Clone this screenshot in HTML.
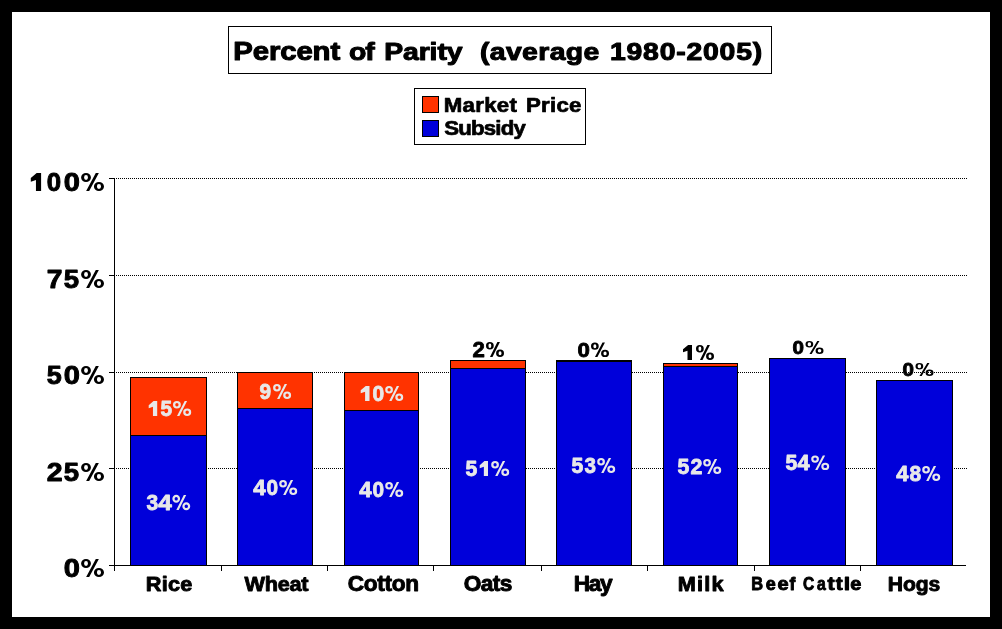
<!DOCTYPE html><html><head><meta charset="utf-8"><style>html,body{margin:0;padding:0;background:#000;}svg{display:block} text{will-change:transform}</style></head><body>
<svg width="1002" height="629" viewBox="0 0 1002 629">
<rect x="0" y="0" width="1002" height="629" fill="#000"/>
<rect x="12" y="12" width="978" height="605" fill="#fff"/>
<g shape-rendering="crispEdges">
<rect x="228.5" y="26.5" width="543" height="47" fill="#fff" stroke="#000" stroke-width="1"/>
<rect x="414.5" y="88.5" width="171" height="56" fill="#fff" stroke="#000" stroke-width="1"/>
<rect x="422.5" y="96.5" width="16" height="16" fill="#FF3300" stroke="#000" stroke-width="1"/>
<rect x="422.5" y="120.5" width="16" height="16" fill="#0000DA" stroke="#000" stroke-width="1"/>
<line x1="116" y1="178.5" x2="967" y2="178.5" stroke="#000" stroke-width="1" stroke-dasharray="1 1"/>
<line x1="116" y1="275.5" x2="967" y2="275.5" stroke="#000" stroke-width="1" stroke-dasharray="1 1"/>
<line x1="116" y1="372.5" x2="967" y2="372.5" stroke="#000" stroke-width="1" stroke-dasharray="1 1"/>
<line x1="116" y1="468.5" x2="967" y2="468.5" stroke="#000" stroke-width="1" stroke-dasharray="1 1"/>
<rect x="130.5" y="377.5" width="76" height="58" fill="#FF3300" stroke="#000" stroke-width="1"/>
<rect x="130.5" y="435.5" width="76" height="130" fill="#0000DA" stroke="#000" stroke-width="1"/>
<rect x="237.5" y="372.5" width="75" height="36" fill="#FF3300" stroke="#000" stroke-width="1"/>
<rect x="237.5" y="408.5" width="75" height="157" fill="#0000DA" stroke="#000" stroke-width="1"/>
<rect x="344.5" y="372.5" width="74" height="38" fill="#FF3300" stroke="#000" stroke-width="1"/>
<rect x="344.5" y="410.5" width="74" height="155" fill="#0000DA" stroke="#000" stroke-width="1"/>
<rect x="450.5" y="360.5" width="75" height="8" fill="#FF3300" stroke="#000" stroke-width="1"/>
<rect x="450.5" y="368.5" width="75" height="197" fill="#0000DA" stroke="#000" stroke-width="1"/>
<rect x="556.5" y="360.5" width="75" height="1" fill="#FF3300" stroke="#000" stroke-width="1"/>
<rect x="556.5" y="361.5" width="75" height="204" fill="#0000DA" stroke="#000" stroke-width="1"/>
<rect x="663.5" y="363.5" width="74" height="3" fill="#FF3300" stroke="#000" stroke-width="1"/>
<rect x="663.5" y="366.5" width="74" height="199" fill="#0000DA" stroke="#000" stroke-width="1"/>
<rect x="769.5" y="358.5" width="76" height="207" fill="#0000DA" stroke="#000" stroke-width="1"/>
<rect x="876.5" y="380.5" width="76" height="185" fill="#0000DA" stroke="#000" stroke-width="1"/>
<line x1="114.5" y1="178" x2="114.5" y2="571" stroke="#000" stroke-width="1"/>
<line x1="109" y1="565.5" x2="966" y2="565.5" stroke="#000" stroke-width="1"/>
<line x1="109" y1="178.5" x2="115" y2="178.5" stroke="#000" stroke-width="1"/>
<line x1="109" y1="275.5" x2="115" y2="275.5" stroke="#000" stroke-width="1"/>
<line x1="109" y1="372.5" x2="115" y2="372.5" stroke="#000" stroke-width="1"/>
<line x1="109" y1="468.5" x2="115" y2="468.5" stroke="#000" stroke-width="1"/>
<line x1="221.5" y1="565" x2="221.5" y2="571" stroke="#000" stroke-width="1"/>
<line x1="327.5" y1="565" x2="327.5" y2="571" stroke="#000" stroke-width="1"/>
<line x1="433.5" y1="565" x2="433.5" y2="571" stroke="#000" stroke-width="1"/>
<line x1="541.5" y1="565" x2="541.5" y2="571" stroke="#000" stroke-width="1"/>
<line x1="647.5" y1="565" x2="647.5" y2="571" stroke="#000" stroke-width="1"/>
<line x1="754.5" y1="565" x2="754.5" y2="571" stroke="#000" stroke-width="1"/>
<line x1="860.5" y1="565" x2="860.5" y2="571" stroke="#000" stroke-width="1"/>
</g>
<path d="M36.67,173.00L41.10,173.00L41.10,191.00L35.95,191.00L35.95,180.02L30.80,181.64L30.80,178.04z" fill="#000"/>
<path d="M153.54,401.00L157.20,401.00L157.20,416.00L152.95,416.00L152.95,406.85L148.70,408.20L148.70,405.20z" fill="#E8E8E8"/>
<path d="M365.72,386.00L369.50,386.00L369.50,401.00L365.10,401.00L365.10,391.85L360.70,393.20L360.70,390.20z" fill="#E8E8E8"/>
<path d="M484.43,461.00L488.00,461.00L488.00,476.00L483.85,476.00L483.85,466.85L479.70,468.20L479.70,465.20z" fill="#E8E8E8"/>
<path d="M688.13,345.00L692.00,345.00L692.00,360.00L687.50,360.00L687.50,350.85L683.00,352.20L683.00,349.20z" fill="#000"/>
<path d="M486.00,345.75a3.87,3.75 0 1,0 7.74,0a3.87,3.75 0 1,0 -7.74,0zM488.48,345.75a1.40,2.02 0 1,1 2.79,0a1.40,2.02 0 1,1 -2.79,0zM496.08,353.25a3.96,3.75 0 1,0 7.92,0a3.96,3.75 0 1,0 -7.92,0zM498.56,353.25a1.48,2.02 0 1,1 2.97,0a1.48,2.02 0 1,1 -2.97,0zM489.96,357.00L492.51,357.00L499.95,342.00L497.40,342.00z" fill="#000" fill-rule="nonzero"/>
<path d="M591.00,346.20a3.87,3.60 0 1,0 7.74,0a3.87,3.60 0 1,0 -7.74,0zM593.38,346.20a1.49,1.94 0 1,1 2.99,0a1.49,1.94 0 1,1 -2.99,0zM601.08,353.40a3.96,3.60 0 1,0 7.92,0a3.96,3.60 0 1,0 -7.92,0zM603.46,353.40a1.58,1.94 0 1,1 3.17,0a1.58,1.94 0 1,1 -3.17,0zM594.96,357.00L597.41,357.00L604.95,342.60L602.50,342.60z" fill="#000" fill-rule="nonzero"/>
<path d="M696.00,348.75a3.87,3.75 0 1,0 7.74,0a3.87,3.75 0 1,0 -7.74,0zM698.48,348.75a1.40,2.02 0 1,1 2.79,0a1.40,2.02 0 1,1 -2.79,0zM706.08,356.25a3.96,3.75 0 1,0 7.92,0a3.96,3.75 0 1,0 -7.92,0zM708.55,356.25a1.48,2.02 0 1,1 2.97,0a1.48,2.02 0 1,1 -2.97,0zM699.96,360.00L702.51,360.00L709.95,345.00L707.40,345.00z" fill="#000" fill-rule="nonzero"/>
<path d="M805.50,344.25a3.87,3.25 0 1,0 7.74,0a3.87,3.25 0 1,0 -7.74,0zM807.64,344.25a1.73,1.75 0 1,1 3.45,0a1.73,1.75 0 1,1 -3.45,0zM815.58,350.75a3.96,3.25 0 1,0 7.92,0a3.96,3.25 0 1,0 -7.92,0zM817.72,350.75a1.81,1.75 0 1,1 3.63,0a1.81,1.75 0 1,1 -3.63,0zM809.46,354.00L811.67,354.00L819.45,341.00L817.24,341.00z" fill="#000" fill-rule="nonzero"/>
<path d="M915.50,366.25a3.87,3.25 0 1,0 7.74,0a3.87,3.25 0 1,0 -7.74,0zM917.64,366.25a1.73,1.75 0 1,1 3.45,0a1.73,1.75 0 1,1 -3.45,0zM925.58,372.75a3.96,3.25 0 1,0 7.92,0a3.96,3.25 0 1,0 -7.92,0zM927.72,372.75a1.81,1.75 0 1,1 3.63,0a1.81,1.75 0 1,1 -3.63,0zM919.46,376.00L921.67,376.00L929.45,363.00L927.24,363.00z" fill="#000" fill-rule="nonzero"/>
<path d="M81.10,177.50a4.92,4.50 0 1,0 9.85,0a4.92,4.50 0 1,0 -9.85,0zM84.07,177.50a1.95,2.43 0 1,1 3.91,0a1.95,2.43 0 1,1 -3.91,0zM93.92,186.50a5.04,4.50 0 1,0 10.08,0a5.04,4.50 0 1,0 -10.08,0zM96.89,186.50a2.07,2.43 0 1,1 4.14,0a2.07,2.43 0 1,1 -4.14,0zM86.14,191.00L89.20,191.00L98.85,173.00L95.79,173.00z" fill="#000" fill-rule="nonzero"/>
<path d="M81.10,274.50a4.92,4.50 0 1,0 9.85,0a4.92,4.50 0 1,0 -9.85,0zM84.07,274.50a1.95,2.43 0 1,1 3.91,0a1.95,2.43 0 1,1 -3.91,0zM93.92,283.50a5.04,4.50 0 1,0 10.08,0a5.04,4.50 0 1,0 -10.08,0zM96.89,283.50a2.07,2.43 0 1,1 4.14,0a2.07,2.43 0 1,1 -4.14,0zM86.14,288.00L89.20,288.00L98.85,270.00L95.79,270.00z" fill="#000" fill-rule="nonzero"/>
<path d="M81.10,370.50a4.92,4.50 0 1,0 9.85,0a4.92,4.50 0 1,0 -9.85,0zM84.07,370.50a1.95,2.43 0 1,1 3.91,0a1.95,2.43 0 1,1 -3.91,0zM93.92,379.50a5.04,4.50 0 1,0 10.08,0a5.04,4.50 0 1,0 -10.08,0zM96.89,379.50a2.07,2.43 0 1,1 4.14,0a2.07,2.43 0 1,1 -4.14,0zM86.14,384.00L89.20,384.00L98.85,366.00L95.79,366.00z" fill="#000" fill-rule="nonzero"/>
<path d="M81.10,467.50a4.92,4.50 0 1,0 9.85,0a4.92,4.50 0 1,0 -9.85,0zM84.07,467.50a1.95,2.43 0 1,1 3.91,0a1.95,2.43 0 1,1 -3.91,0zM93.92,476.50a5.04,4.50 0 1,0 10.08,0a5.04,4.50 0 1,0 -10.08,0zM96.89,476.50a2.07,2.43 0 1,1 4.14,0a2.07,2.43 0 1,1 -4.14,0zM86.14,481.00L89.20,481.00L98.85,463.00L95.79,463.00z" fill="#000" fill-rule="nonzero"/>
<path d="M81.10,563.50a4.92,4.50 0 1,0 9.85,0a4.92,4.50 0 1,0 -9.85,0zM84.07,563.50a1.95,2.43 0 1,1 3.91,0a1.95,2.43 0 1,1 -3.91,0zM93.92,572.50a5.04,4.50 0 1,0 10.08,0a5.04,4.50 0 1,0 -10.08,0zM96.89,572.50a2.07,2.43 0 1,1 4.14,0a2.07,2.43 0 1,1 -4.14,0zM86.14,577.00L89.20,577.00L98.85,559.00L95.79,559.00z" fill="#000" fill-rule="nonzero"/>
<path d="M173.00,404.75a3.91,3.75 0 1,0 7.83,0a3.91,3.75 0 1,0 -7.83,0zM175.25,404.75a1.66,1.65 0 1,1 3.33,0a1.66,1.65 0 1,1 -3.33,0zM183.19,412.25a4.00,3.75 0 1,0 8.01,0a4.00,3.75 0 1,0 -8.01,0zM185.44,412.25a1.75,1.65 0 1,1 3.51,0a1.75,1.65 0 1,1 -3.51,0zM177.00,416.00L179.40,416.00L187.10,401.00L184.70,401.00z" fill="#E8E8E8" fill-rule="nonzero"/>
<path d="M172.40,498.75a3.83,3.75 0 1,0 7.65,0a3.83,3.75 0 1,0 -7.65,0zM174.65,498.75a1.58,1.65 0 1,1 3.15,0a1.58,1.65 0 1,1 -3.15,0zM182.37,506.25a3.92,3.75 0 1,0 7.83,0a3.92,3.75 0 1,0 -7.83,0zM184.62,506.25a1.67,1.65 0 1,1 3.33,0a1.67,1.65 0 1,1 -3.33,0zM176.32,510.00L178.72,510.00L186.19,495.00L183.79,495.00z" fill="#E8E8E8" fill-rule="nonzero"/>
<path d="M273.10,387.75a3.87,3.75 0 1,0 7.74,0a3.87,3.75 0 1,0 -7.74,0zM275.35,387.75a1.62,1.65 0 1,1 3.24,0a1.62,1.65 0 1,1 -3.24,0zM283.18,395.25a3.96,3.75 0 1,0 7.92,0a3.96,3.75 0 1,0 -7.92,0zM285.43,395.25a1.71,1.65 0 1,1 3.42,0a1.71,1.65 0 1,1 -3.42,0zM277.06,399.00L279.46,399.00L287.05,384.00L284.65,384.00z" fill="#E8E8E8" fill-rule="nonzero"/>
<path d="M279.20,483.75a3.87,3.75 0 1,0 7.74,0a3.87,3.75 0 1,0 -7.74,0zM281.45,483.75a1.62,1.65 0 1,1 3.24,0a1.62,1.65 0 1,1 -3.24,0zM289.28,491.25a3.96,3.75 0 1,0 7.92,0a3.96,3.75 0 1,0 -7.92,0zM291.53,491.25a1.71,1.65 0 1,1 3.42,0a1.71,1.65 0 1,1 -3.42,0zM283.16,495.00L285.56,495.00L293.15,480.00L290.75,480.00z" fill="#E8E8E8" fill-rule="nonzero"/>
<path d="M385.20,389.75a3.87,3.75 0 1,0 7.74,0a3.87,3.75 0 1,0 -7.74,0zM387.45,389.75a1.62,1.65 0 1,1 3.24,0a1.62,1.65 0 1,1 -3.24,0zM395.28,397.25a3.96,3.75 0 1,0 7.92,0a3.96,3.75 0 1,0 -7.92,0zM397.53,397.25a1.71,1.65 0 1,1 3.42,0a1.71,1.65 0 1,1 -3.42,0zM389.16,401.00L391.56,401.00L399.15,386.00L396.75,386.00z" fill="#E8E8E8" fill-rule="nonzero"/>
<path d="M385.20,485.75a3.87,3.75 0 1,0 7.74,0a3.87,3.75 0 1,0 -7.74,0zM387.45,485.75a1.62,1.65 0 1,1 3.24,0a1.62,1.65 0 1,1 -3.24,0zM395.28,493.25a3.96,3.75 0 1,0 7.92,0a3.96,3.75 0 1,0 -7.92,0zM397.53,493.25a1.71,1.65 0 1,1 3.42,0a1.71,1.65 0 1,1 -3.42,0zM389.16,497.00L391.56,497.00L399.15,482.00L396.75,482.00z" fill="#E8E8E8" fill-rule="nonzero"/>
<path d="M491.20,464.75a3.87,3.75 0 1,0 7.74,0a3.87,3.75 0 1,0 -7.74,0zM493.45,464.75a1.62,1.65 0 1,1 3.24,0a1.62,1.65 0 1,1 -3.24,0zM501.28,472.25a3.96,3.75 0 1,0 7.92,0a3.96,3.75 0 1,0 -7.92,0zM503.53,472.25a1.71,1.65 0 1,1 3.42,0a1.71,1.65 0 1,1 -3.42,0zM495.16,476.00L497.56,476.00L505.15,461.00L502.75,461.00z" fill="#E8E8E8" fill-rule="nonzero"/>
<path d="M597.20,461.75a3.87,3.75 0 1,0 7.74,0a3.87,3.75 0 1,0 -7.74,0zM599.45,461.75a1.62,1.65 0 1,1 3.24,0a1.62,1.65 0 1,1 -3.24,0zM607.28,469.25a3.96,3.75 0 1,0 7.92,0a3.96,3.75 0 1,0 -7.92,0zM609.53,469.25a1.71,1.65 0 1,1 3.42,0a1.71,1.65 0 1,1 -3.42,0zM601.16,473.00L603.56,473.00L611.15,458.00L608.75,458.00z" fill="#E8E8E8" fill-rule="nonzero"/>
<path d="M703.20,462.75a3.87,3.75 0 1,0 7.74,0a3.87,3.75 0 1,0 -7.74,0zM705.45,462.75a1.62,1.65 0 1,1 3.24,0a1.62,1.65 0 1,1 -3.24,0zM713.28,470.25a3.96,3.75 0 1,0 7.92,0a3.96,3.75 0 1,0 -7.92,0zM715.53,470.25a1.71,1.65 0 1,1 3.42,0a1.71,1.65 0 1,1 -3.42,0zM707.16,474.00L709.56,474.00L717.15,459.00L714.75,459.00z" fill="#E8E8E8" fill-rule="nonzero"/>
<path d="M811.20,459.12a3.87,3.62 0 1,0 7.74,0a3.87,3.62 0 1,0 -7.74,0zM813.38,459.12a1.70,1.59 0 1,1 3.39,0a1.70,1.59 0 1,1 -3.39,0zM821.28,466.38a3.96,3.62 0 1,0 7.92,0a3.96,3.62 0 1,0 -7.92,0zM823.46,466.38a1.79,1.59 0 1,1 3.57,0a1.79,1.59 0 1,1 -3.57,0zM815.16,470.00L817.48,470.00L825.15,455.50L822.83,455.50z" fill="#E8E8E8" fill-rule="nonzero"/>
<path d="M922.20,469.75a3.87,3.75 0 1,0 7.74,0a3.87,3.75 0 1,0 -7.74,0zM924.45,469.75a1.62,1.65 0 1,1 3.24,0a1.62,1.65 0 1,1 -3.24,0zM932.28,477.25a3.96,3.75 0 1,0 7.92,0a3.96,3.75 0 1,0 -7.92,0zM934.53,477.25a1.71,1.65 0 1,1 3.42,0a1.71,1.65 0 1,1 -3.42,0zM926.16,481.00L928.56,481.00L936.15,466.00L933.75,466.00z" fill="#E8E8E8" fill-rule="nonzero"/>
<text transform="translate(233.25,60.00) scale(1.15,1)" x="0" y="0" font-family='"Liberation Sans", sans-serif' font-weight="bold" font-size="25.51" fill="#000" stroke="#000" stroke-width="1.05" stroke-linejoin="round" textLength="92.97" lengthAdjust="spacing" xml:space="preserve">Percent</text>
<text transform="translate(349.05,60.00) scale(1.15,1)" x="0" y="0" font-family='"Liberation Sans", sans-serif' font-weight="bold" font-size="24.64" fill="#000" stroke="#000" stroke-width="1.05" stroke-linejoin="round" textLength="22.30" lengthAdjust="spacing" xml:space="preserve">of</text>
<text transform="translate(384.25,60.00) scale(1.15,1)" x="0" y="0" font-family='"Liberation Sans", sans-serif' font-weight="bold" font-size="24.64" fill="#000" stroke="#000" stroke-width="1.05" stroke-linejoin="round" textLength="68.03" lengthAdjust="spacing" xml:space="preserve">Parity</text>
<text transform="translate(479.92,60.00) scale(1.15,1)" x="0" y="0" font-family='"Liberation Sans", sans-serif' font-weight="bold" font-size="24.64" fill="#000" stroke="#000" stroke-width="1.05" stroke-linejoin="round" textLength="103.78" lengthAdjust="spacing" xml:space="preserve">(average</text>
<text transform="translate(609.92,60.00) scale(1.15,1)" x="0" y="0" font-family='"Liberation Sans", sans-serif' font-weight="bold" font-size="24.64" fill="#000" stroke="#000" stroke-width="1.05" stroke-linejoin="round" textLength="132.39" lengthAdjust="spacing" xml:space="preserve">1980-2005)</text>
<text transform="translate(443.65,111.50) scale(1.12,1)" x="0" y="0" font-family='"Liberation Sans", sans-serif' font-weight="bold" font-size="19.87" fill="#000" stroke="#000" stroke-width="0.7" stroke-linejoin="round" textLength="65.48" lengthAdjust="spacing" xml:space="preserve">Market</text>
<text transform="translate(525.97,111.50) scale(1.12,1)" x="0" y="0" font-family='"Liberation Sans", sans-serif' font-weight="bold" font-size="19.87" fill="#000" stroke="#000" stroke-width="0.7" stroke-linejoin="round" textLength="49.54" lengthAdjust="spacing" xml:space="preserve">Price</text>
<text transform="translate(444.23,134.50) scale(1.12,1)" x="0" y="0" font-family='"Liberation Sans", sans-serif' font-weight="bold" font-size="19.87" fill="#000" stroke="#000" stroke-width="0.7" stroke-linejoin="round" textLength="72.91" lengthAdjust="spacing" xml:space="preserve">Subsidy</text>
<text transform="translate(46.65,191.00) scale(1.0,1)" x="0" y="0" font-family='"Liberation Sans", sans-serif' font-weight="bold" font-size="24.85" fill="#000" stroke="#000" stroke-width="0.9" stroke-linejoin="round" textLength="14.36" lengthAdjust="spacingAndGlyphs" xml:space="preserve">0</text>
<text transform="translate(63.65,191.00) scale(1.0,1)" x="0" y="0" font-family='"Liberation Sans", sans-serif' font-weight="bold" font-size="24.85" fill="#000" stroke="#000" stroke-width="0.9" stroke-linejoin="round" textLength="16.16" lengthAdjust="spacingAndGlyphs" xml:space="preserve">0</text>
<text transform="translate(46.65,288.00) scale(1.0,1)" x="0" y="0" font-family='"Liberation Sans", sans-serif' font-weight="bold" font-size="24.85" fill="#000" stroke="#000" stroke-width="0.9" stroke-linejoin="round" textLength="15.72" lengthAdjust="spacingAndGlyphs" xml:space="preserve">7</text>
<text transform="translate(63.65,288.00) scale(1.0,1)" x="0" y="0" font-family='"Liberation Sans", sans-serif' font-weight="bold" font-size="24.85" fill="#000" stroke="#000" stroke-width="0.9" stroke-linejoin="round" textLength="15.36" lengthAdjust="spacingAndGlyphs" xml:space="preserve">5</text>
<text transform="translate(46.65,384.00) scale(1.0,1)" x="0" y="0" font-family='"Liberation Sans", sans-serif' font-weight="bold" font-size="24.85" fill="#000" stroke="#000" stroke-width="0.9" stroke-linejoin="round" textLength="15.02" lengthAdjust="spacingAndGlyphs" xml:space="preserve">5</text>
<text transform="translate(63.65,384.00) scale(1.0,1)" x="0" y="0" font-family='"Liberation Sans", sans-serif' font-weight="bold" font-size="24.85" fill="#000" stroke="#000" stroke-width="0.9" stroke-linejoin="round" textLength="16.16" lengthAdjust="spacingAndGlyphs" xml:space="preserve">0</text>
<text transform="translate(46.65,481.00) scale(1.0,1)" x="0" y="0" font-family='"Liberation Sans", sans-serif' font-weight="bold" font-size="24.85" fill="#000" stroke="#000" stroke-width="0.9" stroke-linejoin="round" textLength="15.82" lengthAdjust="spacingAndGlyphs" xml:space="preserve">2</text>
<text transform="translate(63.65,481.00) scale(1.0,1)" x="0" y="0" font-family='"Liberation Sans", sans-serif' font-weight="bold" font-size="24.85" fill="#000" stroke="#000" stroke-width="0.9" stroke-linejoin="round" textLength="15.36" lengthAdjust="spacingAndGlyphs" xml:space="preserve">5</text>
<text transform="translate(63.65,577.00) scale(1.0,1)" x="0" y="0" font-family='"Liberation Sans", sans-serif' font-weight="bold" font-size="24.85" fill="#000" stroke="#000" stroke-width="0.9" stroke-linejoin="round" textLength="16.16" lengthAdjust="spacingAndGlyphs" xml:space="preserve">0</text>
<text transform="translate(160.38,416.00) scale(1.0,1)" x="0" y="0" font-family='"Liberation Sans", sans-serif' font-weight="bold" font-size="21.52" fill="#E8E8E8" stroke="#E8E8E8" stroke-width="0.8" stroke-linejoin="round" textLength="11.58" lengthAdjust="spacingAndGlyphs" xml:space="preserve">5</text>
<text transform="translate(146.38,510.00) scale(1.0,1)" x="0" y="0" font-family='"Liberation Sans", sans-serif' font-weight="bold" font-size="21.52" fill="#E8E8E8" stroke="#E8E8E8" stroke-width="0.8" stroke-linejoin="round" textLength="11.70" lengthAdjust="spacingAndGlyphs" xml:space="preserve">3</text>
<text transform="translate(158.16,510.00) scale(1.0,1)" x="0" y="0" font-family='"Liberation Sans", sans-serif' font-weight="bold" font-size="21.52" fill="#E8E8E8" stroke="#E8E8E8" stroke-width="0.8" stroke-linejoin="round" textLength="13.56" lengthAdjust="spacingAndGlyphs" xml:space="preserve">4</text>
<text transform="translate(259.60,399.00) scale(1.0,1)" x="0" y="0" font-family='"Liberation Sans", sans-serif' font-weight="bold" font-size="21.52" fill="#E8E8E8" stroke="#E8E8E8" stroke-width="0.8" stroke-linejoin="round" textLength="11.58" lengthAdjust="spacingAndGlyphs" xml:space="preserve">9</text>
<text transform="translate(253.18,495.00) scale(1.0,1)" x="0" y="0" font-family='"Liberation Sans", sans-serif' font-weight="bold" font-size="21.52" fill="#E8E8E8" stroke="#E8E8E8" stroke-width="0.8" stroke-linejoin="round" textLength="12.42" lengthAdjust="spacingAndGlyphs" xml:space="preserve">4</text>
<text transform="translate(266.60,495.00) scale(1.0,1)" x="0" y="0" font-family='"Liberation Sans", sans-serif' font-weight="bold" font-size="21.52" fill="#E8E8E8" stroke="#E8E8E8" stroke-width="0.8" stroke-linejoin="round" textLength="11.58" lengthAdjust="spacingAndGlyphs" xml:space="preserve">0</text>
<text transform="translate(372.50,401.00) scale(1.0,1)" x="0" y="0" font-family='"Liberation Sans", sans-serif' font-weight="bold" font-size="21.52" fill="#E8E8E8" stroke="#E8E8E8" stroke-width="0.8" stroke-linejoin="round" textLength="11.68" lengthAdjust="spacingAndGlyphs" xml:space="preserve">0</text>
<text transform="translate(359.18,497.00) scale(1.0,1)" x="0" y="0" font-family='"Liberation Sans", sans-serif' font-weight="bold" font-size="21.52" fill="#E8E8E8" stroke="#E8E8E8" stroke-width="0.8" stroke-linejoin="round" textLength="12.42" lengthAdjust="spacingAndGlyphs" xml:space="preserve">4</text>
<text transform="translate(372.60,497.00) scale(1.0,1)" x="0" y="0" font-family='"Liberation Sans", sans-serif' font-weight="bold" font-size="21.52" fill="#E8E8E8" stroke="#E8E8E8" stroke-width="0.8" stroke-linejoin="round" textLength="11.58" lengthAdjust="spacingAndGlyphs" xml:space="preserve">0</text>
<text transform="translate(465.60,476.00) scale(1.0,1)" x="0" y="0" font-family='"Liberation Sans", sans-serif' font-weight="bold" font-size="21.52" fill="#E8E8E8" stroke="#E8E8E8" stroke-width="0.8" stroke-linejoin="round" textLength="11.80" lengthAdjust="spacingAndGlyphs" xml:space="preserve">5</text>
<text transform="translate(571.60,473.00) scale(1.0,1)" x="0" y="0" font-family='"Liberation Sans", sans-serif' font-weight="bold" font-size="21.52" fill="#E8E8E8" stroke="#E8E8E8" stroke-width="0.8" stroke-linejoin="round" textLength="11.80" lengthAdjust="spacingAndGlyphs" xml:space="preserve">5</text>
<text transform="translate(584.50,473.00) scale(1.0,1)" x="0" y="0" font-family='"Liberation Sans", sans-serif' font-weight="bold" font-size="21.52" fill="#E8E8E8" stroke="#E8E8E8" stroke-width="0.8" stroke-linejoin="round" textLength="11.46" lengthAdjust="spacingAndGlyphs" xml:space="preserve">3</text>
<text transform="translate(677.60,474.00) scale(1.0,1)" x="0" y="0" font-family='"Liberation Sans", sans-serif' font-weight="bold" font-size="21.52" fill="#E8E8E8" stroke="#E8E8E8" stroke-width="0.8" stroke-linejoin="round" textLength="11.80" lengthAdjust="spacingAndGlyphs" xml:space="preserve">5</text>
<text transform="translate(690.50,474.00) scale(1.0,1)" x="0" y="0" font-family='"Liberation Sans", sans-serif' font-weight="bold" font-size="21.52" fill="#E8E8E8" stroke="#E8E8E8" stroke-width="0.8" stroke-linejoin="round" textLength="11.90" lengthAdjust="spacingAndGlyphs" xml:space="preserve">2</text>
<text transform="translate(785.60,470.00) scale(1.0,1)" x="0" y="0" font-family='"Liberation Sans", sans-serif' font-weight="bold" font-size="21.22" fill="#E8E8E8" stroke="#E8E8E8" stroke-width="0.8" stroke-linejoin="round" textLength="11.80" lengthAdjust="spacingAndGlyphs" xml:space="preserve">5</text>
<text transform="translate(797.50,470.00) scale(1.0,1)" x="0" y="0" font-family='"Liberation Sans", sans-serif' font-weight="bold" font-size="21.22" fill="#E8E8E8" stroke="#E8E8E8" stroke-width="0.8" stroke-linejoin="round" textLength="12.10" lengthAdjust="spacingAndGlyphs" xml:space="preserve">4</text>
<text transform="translate(896.18,481.00) scale(1.0,1)" x="0" y="0" font-family='"Liberation Sans", sans-serif' font-weight="bold" font-size="21.52" fill="#E8E8E8" stroke="#E8E8E8" stroke-width="0.8" stroke-linejoin="round" textLength="12.20" lengthAdjust="spacingAndGlyphs" xml:space="preserve">4</text>
<text transform="translate(909.38,481.00) scale(1.0,1)" x="0" y="0" font-family='"Liberation Sans", sans-serif' font-weight="bold" font-size="21.52" fill="#E8E8E8" stroke="#E8E8E8" stroke-width="0.8" stroke-linejoin="round" textLength="11.68" lengthAdjust="spacingAndGlyphs" xml:space="preserve">8</text>
<text transform="translate(472.60,357.00) scale(1.0,1)" x="0" y="0" font-family='"Liberation Sans", sans-serif' font-weight="bold" font-size="21.52" fill="#000" stroke="#000" stroke-width="0.8" stroke-linejoin="round" textLength="12.36" lengthAdjust="spacingAndGlyphs" xml:space="preserve">2</text>
<text transform="translate(577.60,357.00) scale(1.0,1)" x="0" y="0" font-family='"Liberation Sans", sans-serif' font-weight="bold" font-size="19.77" fill="#000" stroke="#000" stroke-width="0.8" stroke-linejoin="round" textLength="12.36" lengthAdjust="spacingAndGlyphs" xml:space="preserve">0</text>
<text transform="translate(792.60,354.00) scale(1.0,1)" x="0" y="0" font-family='"Liberation Sans", sans-serif' font-weight="bold" font-size="17.73" fill="#000" stroke="#000" stroke-width="0.8" stroke-linejoin="round" textLength="11.46" lengthAdjust="spacingAndGlyphs" xml:space="preserve">0</text>
<text transform="translate(902.60,376.00) scale(1.0,1)" x="0" y="0" font-family='"Liberation Sans", sans-serif' font-weight="bold" font-size="17.73" fill="#000" stroke="#000" stroke-width="0.8" stroke-linejoin="round" textLength="11.46" lengthAdjust="spacingAndGlyphs" xml:space="preserve">0</text>
<text transform="translate(145.85,591.00) scale(1.06,1)" x="0" y="0" font-family='"Liberation Sans", sans-serif' font-weight="bold" font-size="20.49" fill="#000" stroke="#000" stroke-width="0.9" stroke-linejoin="round" textLength="43.87" lengthAdjust="spacing" xml:space="preserve">Rice</text>
<text transform="translate(244.45,591.00) scale(1.06,1)" x="0" y="0" font-family='"Liberation Sans", sans-serif' font-weight="bold" font-size="20.49" fill="#000" stroke="#000" stroke-width="0.9" stroke-linejoin="round" textLength="60.47" lengthAdjust="spacing" xml:space="preserve">Wheat</text>
<text transform="translate(347.65,591.00) scale(1.06,1)" x="0" y="0" font-family='"Liberation Sans", sans-serif' font-weight="bold" font-size="21.37" fill="#000" stroke="#000" stroke-width="0.9" stroke-linejoin="round" textLength="67.45" lengthAdjust="spacing" xml:space="preserve">Cotton</text>
<text transform="translate(463.65,591.00) scale(1.06,1)" x="0" y="0" font-family='"Liberation Sans", sans-serif' font-weight="bold" font-size="21.37" fill="#000" stroke="#000" stroke-width="0.9" stroke-linejoin="round" textLength="45.94" lengthAdjust="spacing" xml:space="preserve">Oats</text>
<text transform="translate(573.85,591.00) scale(1.06,1)" x="0" y="0" font-family='"Liberation Sans", sans-serif' font-weight="bold" font-size="21.37" fill="#000" stroke="#000" stroke-width="0.9" stroke-linejoin="round" textLength="36.51" lengthAdjust="spacing" xml:space="preserve">Hay</text>
<text transform="translate(677.85,591.00) scale(1.06,1)" x="0" y="0" font-family='"Liberation Sans", sans-serif' font-weight="bold" font-size="20.49" fill="#000" stroke="#000" stroke-width="0.9" stroke-linejoin="round" textLength="43.11" lengthAdjust="spacing" xml:space="preserve">Milk</text>
<text transform="translate(751.31,590.00) scale(1.0,1)" x="0" y="0" font-family='"Liberation Sans", sans-serif' font-weight="bold" font-size="17.59" fill="#000" stroke="#000" stroke-width="0.9" stroke-linejoin="round" textLength="11.82" lengthAdjust="spacingAndGlyphs" xml:space="preserve">B</text>
<text transform="translate(765.65,590.00) scale(1.0,1)" x="0" y="0" font-family='"Liberation Sans", sans-serif' font-weight="bold" font-size="17.59" fill="#000" stroke="#000" stroke-width="0.9" stroke-linejoin="round" textLength="10.02" lengthAdjust="spacingAndGlyphs" xml:space="preserve">e</text>
<text transform="translate(777.53,590.00) scale(1.0,1)" x="0" y="0" font-family='"Liberation Sans", sans-serif' font-weight="bold" font-size="17.59" fill="#000" stroke="#000" stroke-width="0.9" stroke-linejoin="round" textLength="11.16" lengthAdjust="spacingAndGlyphs" xml:space="preserve">e</text>
<text transform="translate(789.45,590.00) scale(1.0,1)" x="0" y="0" font-family='"Liberation Sans", sans-serif' font-weight="bold" font-size="17.59" fill="#000" stroke="#000" stroke-width="0.9" stroke-linejoin="round" textLength="5.76" lengthAdjust="spacingAndGlyphs" xml:space="preserve">f</text>
<text transform="translate(803.11,590.00) scale(1.0,1)" x="0" y="0" font-family='"Liberation Sans", sans-serif' font-weight="bold" font-size="17.59" fill="#000" stroke="#000" stroke-width="0.9" stroke-linejoin="round" textLength="11.24" lengthAdjust="spacingAndGlyphs" xml:space="preserve">C</text>
<text transform="translate(817.11,590.00) scale(1.0,1)" x="0" y="0" font-family='"Liberation Sans", sans-serif' font-weight="bold" font-size="17.59" fill="#000" stroke="#000" stroke-width="0.9" stroke-linejoin="round" textLength="8.76" lengthAdjust="spacingAndGlyphs" xml:space="preserve">a</text>
<text transform="translate(827.55,590.00) scale(1.0,1)" x="0" y="0" font-family='"Liberation Sans", sans-serif' font-weight="bold" font-size="17.59" fill="#000" stroke="#000" stroke-width="0.9" stroke-linejoin="round" textLength="7.12" lengthAdjust="spacingAndGlyphs" xml:space="preserve">t</text>
<text transform="translate(835.77,590.00) scale(1.0,1)" x="0" y="0" font-family='"Liberation Sans", sans-serif' font-weight="bold" font-size="17.59" fill="#000" stroke="#000" stroke-width="0.9" stroke-linejoin="round" textLength="6.90" lengthAdjust="spacingAndGlyphs" xml:space="preserve">t</text>
<text transform="translate(843.63,590.00) scale(1.0,1)" x="0" y="0" font-family='"Liberation Sans", sans-serif' font-weight="bold" font-size="17.59" fill="#000" stroke="#000" stroke-width="0.9" stroke-linejoin="round" textLength="6.40" lengthAdjust="spacingAndGlyphs" xml:space="preserve">l</text>
<text transform="translate(850.21,590.00) scale(1.0,1)" x="0" y="0" font-family='"Liberation Sans", sans-serif' font-weight="bold" font-size="17.59" fill="#000" stroke="#000" stroke-width="0.9" stroke-linejoin="round" textLength="11.14" lengthAdjust="spacingAndGlyphs" xml:space="preserve">e</text>
<text transform="translate(887.85,591.00) scale(1.06,1)" x="0" y="0" font-family='"Liberation Sans", sans-serif' font-weight="bold" font-size="19.92" fill="#000" stroke="#000" stroke-width="0.9" stroke-linejoin="round" textLength="49.53" lengthAdjust="spacing" xml:space="preserve">Hogs</text>
</svg></body></html>
